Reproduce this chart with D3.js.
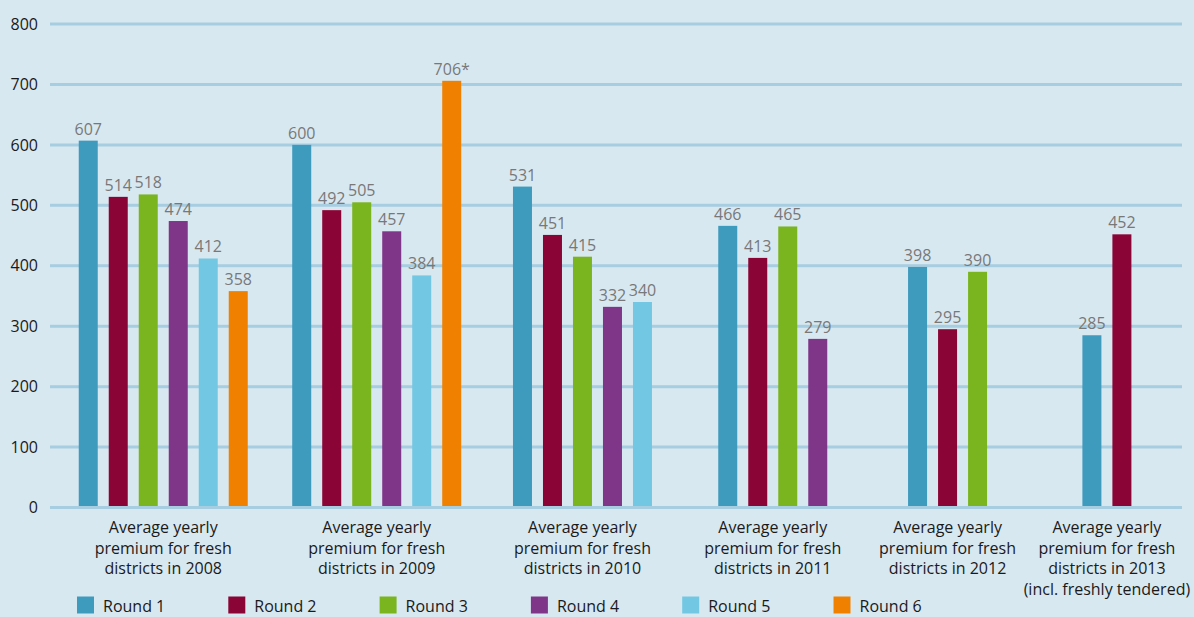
<!DOCTYPE html>
<html>
<head>
<meta charset="utf-8">
<script src="https://cdn.jsdelivr.net/npm/d3@7"></script>
<style>
  html, body { margin: 0; padding: 0; background: #d8e8f1; }
  svg { display: block; }
  text { font-family: "Open Sans", "Noto Sans", sans-serif; }
</style>
</head>
<body>
<svg id="chart" width="1194" height="617"></svg>
<script>
// ---------- data ----------
const categories = [
  ["Average yearly", "premium for fresh", "districts in 2008"],
  ["Average yearly", "premium for fresh", "districts in 2009"],
  ["Average yearly", "premium for fresh", "districts in 2010"],
  ["Average yearly", "premium for fresh", "districts in 2011"],
  ["Average yearly", "premium for fresh", "districts in 2012"],
  ["Average yearly", "premium for fresh", "districts in 2013", "(incl. freshly tendered)"]
];
const rounds = ["Round 1", "Round 2", "Round 3", "Round 4", "Round 5", "Round 6"];
const round1 = [607, 600, 531, 466, 398, 285];
const round2 = [514, 492, 451, 413, 295, 452];
const round3 = [518, 505, 415, 465, 390, null];
const round4 = [474, 457, 332, 279, null, null];
const round5 = [412, 384, 340, null, null, null];
const round6 = [358, 706, null, null, null, null];
const round6Notes = ["", "*", "", "", "", ""];
const yTicks = [0, 100, 200, 300, 400, 500, 600, 700, 800];

const seriesValues = [round1, round2, round3, round4, round5, round6];
const seriesNotes = [null, null, null, null, null, round6Notes];
const colors = ["#3e9bbd", "#8a0535", "#7ab51f", "#7f3688", "#72c7e2", "#f08000"];

// ---------- layout ----------
const FONT = "'Open Sans', 'Noto Sans', sans-serif";
const svg = d3.select("#chart");
const W = 1194, H = 617;
const gridLeft = 50, gridRight = 1182;

svg.append("rect").attr("width", W).attr("height", H).attr("fill", "#d8e8f1");

const y = d3.scaleLinear().domain([0, 800]).range([507.5, 24]);

// group data
const groups = categories.map((lines, gi) => {
  const bars = [];
  seriesValues.forEach((vals, si) => {
    if (vals[gi] != null) {
      const note = seriesNotes[si] ? seriesNotes[si][gi] : "";
      bars.push({ round: rounds[si], value: vals[gi], color: colors[si], label: vals[gi] + note });
    }
  });
  return { lines, bars };
});

// band widths grow with the number of bars in each group
const weights = groups.map(g => g.bars.length + 7.8);
const cum = [0];
weights.forEach(w => cum.push(cum[cum.length - 1] + w));
const x = d3.scaleLinear().domain([0, cum[cum.length - 1]]).range([56.5, 1182.7]);
groups.forEach((g, i) => { g.center = x(cum[i] + weights[i] / 2); });

// gridlines
svg.append("g").selectAll("line").data(yTicks).join("line")
  .attr("x1", gridLeft).attr("x2", gridRight)
  .attr("y1", d => y(d)).attr("y2", d => y(d))
  .attr("stroke", "#a7cde0").attr("stroke-width", 3);

// y axis labels
const yAxis = d3.axisLeft(y).tickValues(yTicks).tickSize(0).tickPadding(3);
const ya = svg.append("g").attr("transform", "translate(41,0)").call(yAxis);
ya.select(".domain").remove();
ya.selectAll("text").attr("font-size", 16).attr("fill", "#1a1a1a")
  .style("font-family", FONT);

// bars
const stride = 30, barW = 19;
groups.forEach(g => {
  const n = g.bars.length;
  const span = (n - 1) * stride + barW;
  const inner = d3.scaleBand()
    .domain(g.bars.map(b => b.round))
    .range([g.center - span / 2, g.center + span / 2])
    .paddingInner((stride - barW) / stride)
    .paddingOuter(0);
  const gg = svg.append("g");
  gg.selectAll("rect").data(g.bars).join("rect")
    .attr("x", d => inner(d.round))
    .attr("width", inner.bandwidth())
    .attr("y", d => y(d.value))
    .attr("height", d => y(0) - 1.5 - y(d.value))
    .attr("fill", d => d.color);
  gg.selectAll("text").data(g.bars).join("text")
    .attr("x", d => inner(d.round) + inner.bandwidth() / 2)
    .attr("y", d => y(d.value) - 6)
    .attr("text-anchor", "middle")
    .attr("font-size", 16)
    .attr("fill", "#787878")
    .text(d => d.label);
});

// category labels
groups.forEach(g => {
  const t = svg.append("text")
    .attr("x", g.center).attr("y", 533)
    .attr("text-anchor", "middle")
    .attr("font-size", 16).attr("fill", "#1a1a1a");
  g.lines.forEach((l, i) => {
    t.append("tspan").attr("x", g.center).attr("dy", i === 0 ? 0 : 20.5).text(l);
  });
});

// legend
const legend = svg.append("g").selectAll("g").data(rounds).join("g")
  .attr("transform", (d, i) => `translate(${77 + i * 151.3},596.5)`);
legend.append("rect").attr("width", 17).attr("height", 17).attr("fill", (d, i) => colors[i]);
legend.append("text").attr("x", 26).attr("y", 15.5).attr("font-size", 16)
  .attr("fill", "#1a1a1a").text(d => d);
</script>
</body>
</html>
